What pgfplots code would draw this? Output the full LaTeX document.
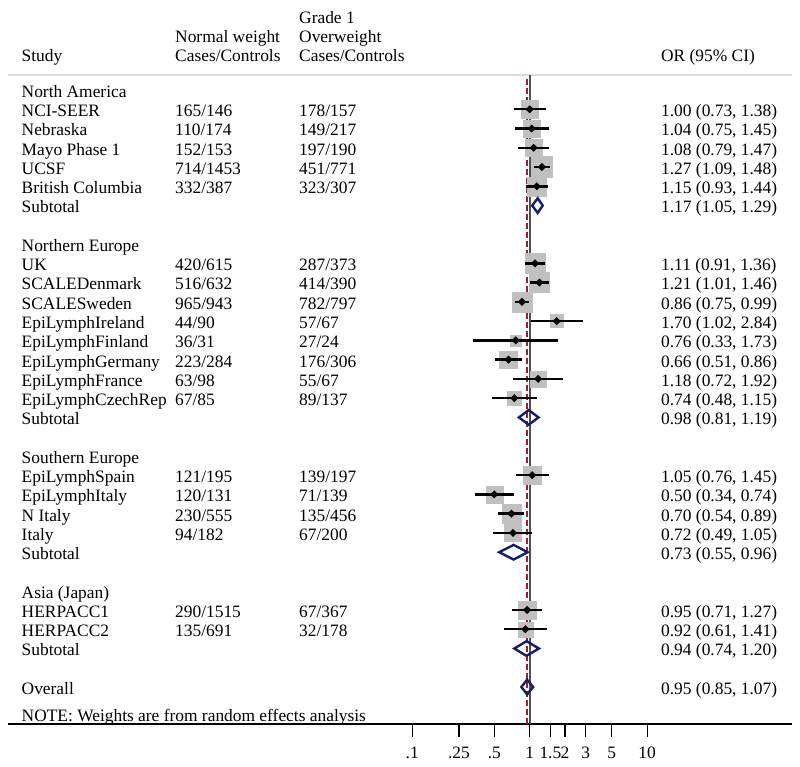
\documentclass[border=0pt]{standalone}
\usepackage{fontspec}
\setmainfont{Liberation Serif}
\usepackage{pgfplots}
\pgfplotsset{compat=1.18}
\usepackage{pgfplotstable}

\definecolor{sqgray}{RGB}{192,192,192}
\definecolor{dnavy}{RGB}{20,30,110}
\definecolor{refred}{RGB}{160,30,45}
\definecolor{refgray}{RGB}{80,80,80}
\definecolor{topgray}{RGB}{220,220,220}

% text columns, given as OR values on the log axis
\def\cS{4.73e-5}
\def\cN{9.578e-4}
\def\cO{0.01088}
\def\cR{13.10}

\newcommand{\txt}[2]{\node[anchor=base west, inner sep=0pt, yshift=-7.4pt] at (axis cs:#1) {#2};}
\newcommand{\study}[5]{\txt{\cS,#1}{#2}\txt{\cN,#1}{#3}\txt{\cO,#1}{#4}\txt{\cR,#1}{#5}}

% or, ci, row (counted up from Overall = 1), half side of weight box
\pgfplotstableread{
or   lo   hi   y  h
1.00 0.73 1.38 31 8.8
1.04 0.75 1.45 30 8.4
1.08 0.79 1.47 29 8.4
1.27 1.09 1.48 28 10.5
1.15 0.93 1.44 27 9.5
1.11 0.91 1.36 23 9.7
1.21 1.01 1.46 22 9.9
0.86 0.75 0.99 21 10.0
1.70 1.02 2.84 20 6.5
0.76 0.33 1.73 19 5.5
0.66 0.51 0.86 18 8.9
1.18 0.72 1.92 17 8.0
0.74 0.48 1.15 16 7.2
1.05 0.76 1.45 12 8.7
0.50 0.34 0.74 11 8.4
0.70 0.54 0.89 10 9.4
0.72 0.49 1.05 9  8.4
0.95 0.71 1.27 5  9.0
0.92 0.61 1.41 4  7.5
}\studies

\begin{document}
\begin{tikzpicture}[font=\fontsize{17.4}{20.9}\selectfont]
\useasboundingbox (-8pt,-43pt) rectangle (792pt,724pt);
\begin{axis}[
    at={(0,0)}, anchor=south west,
    scale only axis, width=784pt, height=649pt,
    xmode=log, xmin=3.63e-5, xmax=170.8,
    ymin=-0.92, ymax=32.78,
    axis x line=bottom, axis y line=none,
    x axis line style={-, black, line width=1.2pt},
    xtick={0.1,0.25,0.5,1,1.5,2,3,5,10},
    xticklabels={.1,.25,.5,1,1.5,2,3,5,10},
    xminorticks=false,
    tick align=outside, major tick length=12.7pt,
    major tick style={black, line width=1.2pt},
    xticklabel style={font=\fontsize{17.4}{20.9}\selectfont, yshift=-7pt},
    clip=false, clip marker paths=true,
    ci/.style={black, line width=2.4pt},
    dia/.style={dnavy, line width=2.4pt, line join=miter},
]

\draw[topgray, line width=2pt] (axis description cs:0,1) -- (axis description cs:1,1);

\addplot[refgray, line width=2pt] coordinates {(1,-0.92)(1,32.78)};
\addplot[refred, line width=1.2pt, dash pattern=on 6pt off 3pt] coordinates {(0.95,-0.92)(0.95,32.6)};

\addplot[scatter, only marks, mark=square*,
    scatter/use mapped color={draw=sqgray, fill=sqgray},
    visualization depends on={\thisrow{h} \as \hs},
    scatter/@pre marker code/.append style={/tikz/mark size=\hs}]
    table[x=or, y=y] {\studies};

\addplot[ci] coordinates {(0.73,31)(1.38,31)};
\addplot[ci] coordinates {(0.75,30)(1.45,30)};
\addplot[ci] coordinates {(0.79,29)(1.47,29)};
\addplot[ci] coordinates {(1.09,28)(1.48,28)};
\addplot[ci] coordinates {(0.93,27)(1.44,27)};
\addplot[ci] coordinates {(0.91,23)(1.36,23)};
\addplot[ci] coordinates {(1.01,22)(1.46,22)};
\addplot[ci] coordinates {(0.75,21)(0.99,21)};
\addplot[ci] coordinates {(1.02,20)(2.84,20)};
\addplot[ci] coordinates {(0.33,19)(1.73,19)};
\addplot[ci] coordinates {(0.51,18)(0.86,18)};
\addplot[ci] coordinates {(0.72,17)(1.92,17)};
\addplot[ci] coordinates {(0.48,16)(1.15,16)};
\addplot[ci] coordinates {(0.76,12)(1.45,12)};
\addplot[ci] coordinates {(0.34,11)(0.74,11)};
\addplot[ci] coordinates {(0.54,10)(0.89,10)};
\addplot[ci] coordinates {(0.49,9)(1.05,9)};
\addplot[ci] coordinates {(0.71,5)(1.27,5)};
\addplot[ci] coordinates {(0.61,4)(1.41,4)};

\addplot[only marks, mark=square*, mark size=2.6pt, mark options={rotate=45}, black]
    table[x=or, y=y] {\studies};

% subtotals and overall
\addplot[dia] coordinates {(1.05,26)(1.17,26.38)(1.29,26)(1.17,25.62)} -- cycle;
\addplot[dia] coordinates {(0.81,15)(0.98,15.38)(1.19,15)(0.98,14.62)} -- cycle;
\addplot[dia] coordinates {(0.55,8)(0.73,8.38)(0.96,8)(0.73,7.62)} -- cycle;
\addplot[dia] coordinates {(0.74,3)(0.94,3.38)(1.20,3)(0.94,2.62)} -- cycle;
\addplot[dia] coordinates {(0.85,1)(0.95,1.38)(1.07,1)(0.95,0.62)} -- cycle;

% header
\txt{\cS,33.85}{Study}
\txt{\cN,34.85}{Normal weight}
\txt{\cN,33.85}{Cases/Controls}
\txt{\cO,35.85}{Grade 1}
\txt{\cO,34.85}{Overweight}
\txt{\cO,33.85}{Cases/Controls}
\txt{\cR,33.85}{OR (95\% CI)}

\txt{\cS,32}{North America}
\study{31}{NCI-SEER}{165/146}{178/157}{1.00 (0.73, 1.38)}
\study{30}{Nebraska}{110/174}{149/217}{1.04 (0.75, 1.45)}
\study{29}{Mayo Phase 1}{152/153}{197/190}{1.08 (0.79, 1.47)}
\study{28}{UCSF}{714/1453}{451/771}{1.27 (1.09, 1.48)}
\study{27}{British Columbia}{332/387}{323/307}{1.15 (0.93, 1.44)}
\study{26}{Subtotal}{}{}{1.17 (1.05, 1.29)}

\txt{\cS,24}{Northern Europe}
\study{23}{UK}{420/615}{287/373}{1.11 (0.91, 1.36)}
\study{22}{SCALEDenmark}{516/632}{414/390}{1.21 (1.01, 1.46)}
\study{21}{SCALESweden}{965/943}{782/797}{0.86 (0.75, 0.99)}
\study{20}{EpiLymphIreland}{44/90}{57/67}{1.70 (1.02, 2.84)}
\study{19}{EpiLymphFinland}{36/31}{27/24}{0.76 (0.33, 1.73)}
\study{18}{EpiLymphGermany}{223/284}{176/306}{0.66 (0.51, 0.86)}
\study{17}{EpiLymphFrance}{63/98}{55/67}{1.18 (0.72, 1.92)}
\study{16}{EpiLymphCzechRep}{67/85}{89/137}{0.74 (0.48, 1.15)}
\study{15}{Subtotal}{}{}{0.98 (0.81, 1.19)}

\txt{\cS,13}{Southern Europe}
\study{12}{EpiLymphSpain}{121/195}{139/197}{1.05 (0.76, 1.45)}
\study{11}{EpiLymphItaly}{120/131}{71/139}{0.50 (0.34, 0.74)}
\study{10}{N Italy}{230/555}{135/456}{0.70 (0.54, 0.89)}
\study{9}{Italy}{94/182}{67/200}{0.72 (0.49, 1.05)}
\study{8}{Subtotal}{}{}{0.73 (0.55, 0.96)}

\txt{\cS,6}{Asia (Japan)}
\study{5}{HERPACC1}{290/1515}{67/367}{0.95 (0.71, 1.27)}
\study{4}{HERPACC2}{135/691}{32/178}{0.92 (0.61, 1.41)}
\study{3}{Subtotal}{}{}{0.94 (0.74, 1.20)}

\txt{\cS,1}{Overall}
\txt{\cR,1}{0.95 (0.85, 1.07)}

\txt{\cS,-0.43}{NOTE: Weights are from random effects analysis}
\end{axis}
\end{tikzpicture}
\end{document}
